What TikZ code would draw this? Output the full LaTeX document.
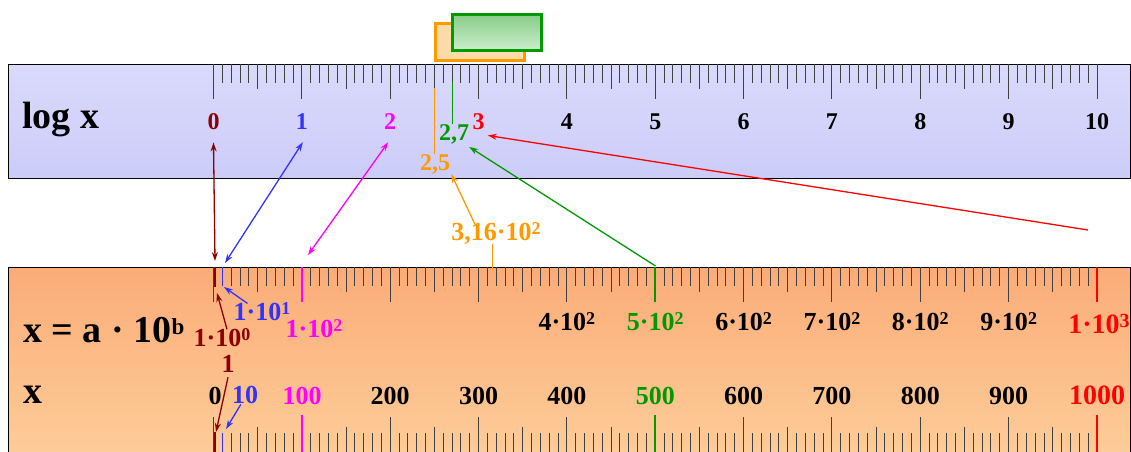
\documentclass[tikz,border=0pt]{standalone}
\usepackage{fontspec}
\setmainfont{Liberation Serif}
\usetikzlibrary{arrows.meta,calc}

\definecolor{dred}{RGB}{140,0,0}
\definecolor{lblue}{RGB}{51,51,255}
\definecolor{lmag}{RGB}{255,0,255}
\definecolor{lred}{RGB}{255,0,0}
\definecolor{lgreen}{RGB}{0,153,0}
\definecolor{lorange}{RGB}{255,153,0}
\definecolor{toptop}{RGB}{218,218,252}
\definecolor{topbot}{RGB}{204,204,250}
\definecolor{bottop}{RGB}{251,172,120}
\definecolor{botbot}{RGB}{253,204,152}

% small raised exponent
\newcommand\pw[3][5.5pt]{\raisebox{#1}{\fontsize{#2}{#2}\selectfont #3}}

\tikzset{
  ruler/.style={draw=black, line width=0.9pt},
  tickline/.style={draw=black!75, line width=1pt},
  lbl/.style={inner sep=0pt, anchor=base, font=\bfseries\fontsize{24}{24}\selectfont},
  sclbl/.style={lbl, font=\bfseries\fontsize{26}{26}\selectfont},
  biglbl/.style={inner sep=0pt, anchor=base west, font=\bfseries\fontsize{38}{38}\selectfont},
  arr/.style={line width=1.3pt, -{Stealth[length=9pt,width=6pt]}},
  darr/.style={line width=1.3pt, {Stealth[length=9pt,width=6pt]}-{Stealth[length=9pt,width=6pt]}},
}

\begin{document}
\begin{tikzpicture}[x=1pt, y=-1pt]
  \useasboundingbox (0,0) rectangle (1131,451);
  % the two rulers
  \shade[top color=toptop, bottom color=topbot] (8,64) rectangle (1130,178);
  \draw[ruler] (8,64) rectangle (1130,178);
  \shade[top color=bottop, bottom color=botbot] (8,267) rectangle (1130,452);
  \draw[ruler] (8,453) -- (8,267) -- (1130,267) -- (1130,453);

  % ticks, one every tenth of a unit
  \foreach \i in {0,...,100} {
    \pgfmathsetmacro\tx{213.5+\i*8.835}
    \pgfmathsetmacro\tl{ifthenelse(mod(\i,10)==0,35,ifthenelse(mod(\i,5)==0,25,19))}
    \draw[tickline] (\tx,64) -- ++(0,\tl);
    \draw[tickline] (\tx,267) -- ++(0,\tl);
    \draw[tickline] (\tx,452) -- ++(0,-\tl);
  }

  % windows over the log scale
  \draw[lorange, line width=3pt, fill={rgb,255:red,253;green,220;blue,170}] (435.5,23.8) rectangle (524.2,60.2);
  \shade[top color={rgb,255:red,136;green,204;blue,136}, bottom color={rgb,255:red,204;green,238;blue,204}] (452.5,14.2) rectangle (541.8,50.2);
  \draw[lgreen, line width=3pt] (452.5,14.2) rectangle (541.8,50.2);

  % labels of the log scale
  \node[biglbl] (logx) at (22,128) {log x};
  \foreach \n/\c in {0/dred,1/lblue,2/lmag,3/lred,4/black,5/black,6/black,7/black,8/black,9/black,10/black}
    \node[lbl, text=\c] (t\n) at ({213.5+\n*88.35},129) {\n};
  \node[lbl, text=lgreen] (t27) at (454,140) {2,7};
  \node[lbl, text=lorange] (t25) at (435,170) {2,5};

  % labels of the linear scale
  \node[biglbl] (xab) at (23,342) {x = a · 10\pw[8pt]{23}{b}};
  \node[biglbl] (xx) at (23,403) {x};
  \node[sclbl, text=dred] (e0) at (222,346) {1·10\pw{18}{0}};
  \node[sclbl, text=lblue] (e1) at (262,320) {1·10\pw{18}{1}};
  \node[sclbl, text=lmag] (e2) at (314,337) {1·10\pw{18}{2}};
  \node[sclbl, text=dred] (one) at (228,372) {1};
  \foreach \k/\c in {4/black,5/lgreen,6/black,7/black,8/black,9/black}
    \node[sclbl, text=\c] (m\k) at ({213.5+\k*88.35},330) {\k·10\pw{18}{2}};
  \node[sclbl, text=lred, font=\bfseries\fontsize{28}{28}\selectfont] (m10) at (1099,333) {1·10\pw[6pt]{20}{3}};
  \node[sclbl, text=lorange] (l316) at (496,240) {3,16·10\pw{18}{2}};

  \node[sclbl] (b0) at (215,404) {0};
  \node[sclbl, text=lblue] (b10) at (245,403) {10};
  \node[sclbl, text=lmag] (b100) at (302,404) {100};
  \foreach \k/\c in {2/black,3/black,4/black,5/lgreen,6/black,7/black,8/black,9/black}
    \node[sclbl, text=\c] (b\k00) at ({213.5+\k*88.35},404) {\k00};
  \node[sclbl, text=lred, font=\bfseries\fontsize{28}{28}\selectfont] (b1000) at (1097,404) {1000};

  % coloured marks
  \coordinate (g27) at (452,82);
  \coordinate (o25) at (434.4,88);
  \coordinate (c316) at (492.7,270);
  \draw[lgreen, line width=1pt] (g27) -- (g27 |- t27.north);
  \draw[lorange, line width=1pt] (o25) -- (o25 |- t25.north);
  \draw[lorange, line width=1.5pt] (l316.south -| c316) -- (c316);
  \draw[dred, line width=2pt] (215,267) -- ++(0,20) (215,452) -- ++(0,-20);
  \draw[lblue, line width=1.5pt] (222.3,267) -- ++(0,19) (222.3,452) -- ++(0,-19);
  \draw[lmag, line width=1.5pt] (301.9,267) -- ++(0,35) (301.9,452) -- ++(0,-37);
  \draw[lgreen, line width=1.5pt] (655.2,267) -- ++(0,35) (655.2,452) -- ++(0,-37);
  \draw[lred, line width=1.5pt] (1097,267) -- ++(0,35) (1097,452) -- ++(0,-37);

  % arrow ends
  \coordinate (d0) at (215,261);
  \coordinate (d10) at (225,263);
  \coordinate (d100) at (308,255);
  \coordinate (g500) at (655.5,266);
  \coordinate (r1k) at (1088,230);
  \coordinate (u10) at (224,287);
  \coordinate (u1) at (217,293);
  \coordinate (w1) at (216,432);
  \coordinate (w10) at (226,429);

  % arrows
  \draw[darr, dred] ([yshift=-13pt]t0.south) -- (d0);
  \draw[darr, lblue] ([xshift=1pt,yshift=-13pt]t1.south) -- (d10);
  \draw[darr, lmag] ([xshift=-2pt,yshift=-13pt]t2.south) -- (d100);
  \draw[arr, lorange] ([xshift=-21pt,yshift=-2pt]l316.north) -- ([xshift=1pt]t25.south east);
  \draw[arr, lgreen] (g500) -- ([yshift=-3pt]t27.south east);
  \draw[arr, lred] (r1k) -- ([xshift=3pt,yshift=-6pt]t3.south east);
  \draw[arr, lblue] ([xshift=14pt,yshift=-1pt]e1.north west) -- (u10);
  \draw[arr, dred] ([xshift=5pt,yshift=-1pt]e0.north) -- (u1);
  \draw[arr, dred] ([yshift=-5pt]one.south) -- (w1);
  \draw[arr, lblue] ([xshift=9pt,yshift=-1pt]b10.south west) -- (w10);
\end{tikzpicture}
\end{document}
